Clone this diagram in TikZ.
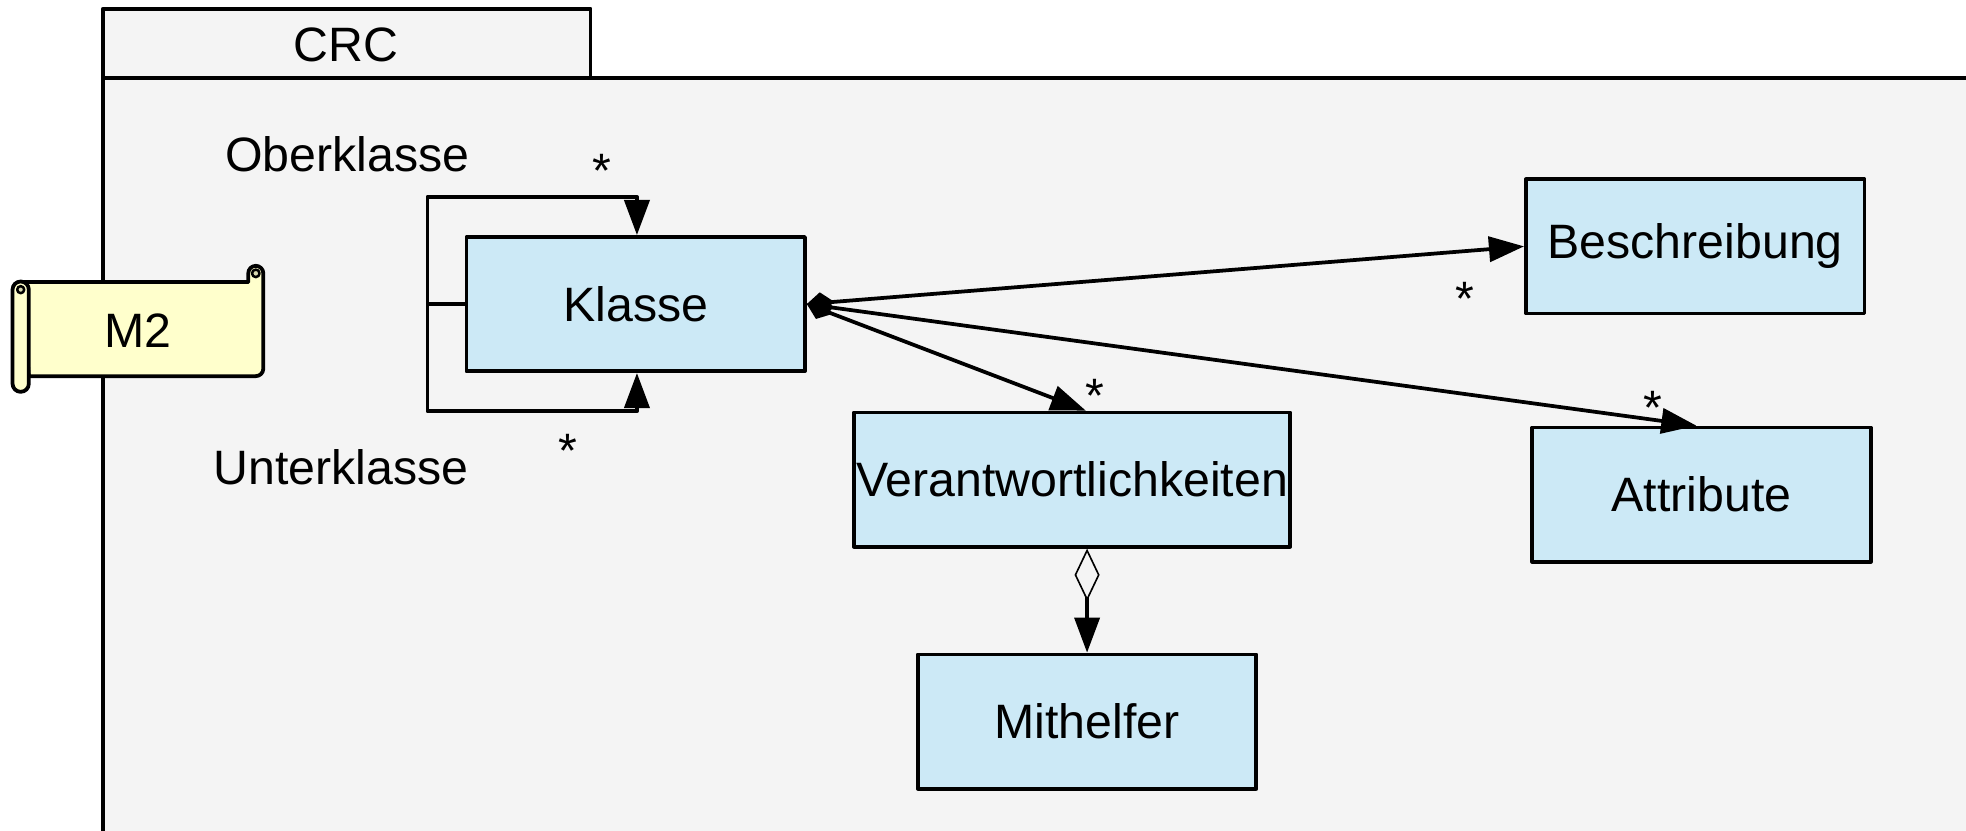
\documentclass[tikz,border=0pt]{standalone}
\usepackage{fontspec}
\setmainfont{Liberation Sans}
\usetikzlibrary{arrows.meta,calc}
\definecolor{pkgfill}{HTML}{F4F4F4}
\definecolor{boxfill}{HTML}{CCE9F6}
\definecolor{scrollfill}{HTML}{FFFFCC}
\definecolor{curlfill}{HTML}{D8D8B0}
\begin{document}
\begin{tikzpicture}[x=1pt,y=-1pt,line join=round,
  txt/.style={font=\fontsize{38.5}{46}\selectfont, inner sep=0pt},
  cls/.style={txt, draw, line width=3pt, fill=boxfill, minimum width=270pt, minimum height=107pt},
  conn/.style={line width=3pt},
  tri/.tip={Triangle[length=28pt,width=20pt]},
  comp/.tip={Diamond[length=22pt,width=17pt]},
  aggr/.tip={Diamond[open,length=42pt,width=20pt,line width=1.3pt]}
]
\useasboundingbox (0,0) rectangle (1568,662);
\clip (0,0) rectangle (1568,662);
% package
\draw[line width=3pt, fill=pkgfill] (82,7) rectangle (471,62);
\draw[line width=3pt, fill=pkgfill] (82,62) rectangle (1600,700);
\node[txt] (crc) at (276,36) {CRC};
% scroll
\draw[line width=3pt, fill=scrollfill] (17,225) -- (198,225) -- (198,218) arc (180:360:6) -- (210,294) arc (0:90:6) -- (23,300) -- cycle;
\draw[line width=2pt, fill=curlfill] (204,218) circle (3);
\draw[line width=3pt, fill=scrollfill] (10,231) arc (180:360:6.5) -- (23,306) arc (0:180:6.5) -- cycle;
\draw[line width=2pt, fill=curlfill] (16.5,231) circle (2.8);
\node[txt] (m2) at (110,264) {M2};
% classes
\node[cls] (klasse) at (507,242.5) {Klasse};
\node[cls] (beschr) at (1352,196.5) {Beschreibung};
\node[cls, minimum width=348pt] (verant) at (855,382.5) {Verantwortlichkeiten};
\node[cls] (attr) at (1357,394.5) {Attribute};
\node[cls] (mit) at (867,575.5) {Mithelfer};
% self association
\coordinate (lj) at (341,242.5);
\coordinate (topc) at (508,157);
\coordinate (botc) at (508,328);
\draw[conn,-tri] (klasse.west) -- (lj) |- (topc) -- (topc |- klasse.north);
\draw[conn,-tri] (lj) |- (botc) -- (botc |- klasse.south);
\node[txt] (ober) at (277,123) {Oberklasse};
\node[txt] (unter) at (272,373) {Unterklasse};
\node[txt] (s1) at (480,136) {*};
\node[txt] (s2) at (453,360) {*};
% associations
\draw[conn,comp-tri] (klasse.east) -- (beschr.west);
\draw[conn,comp-tri] (klasse.east) -- ($(attr.north)+(-4,0)$);
\draw[conn,comp-tri] (klasse.east) -- ($(verant.north)+(11,0)$);
\node[txt] (s3) at (1168,238) {*};
\node[txt] (s4) at (1318,325) {*};
\node[txt] (s5) at (873,316) {*};
% aggregation
\draw[conn,aggr-tri] (mit.north |- verant.south) -- (mit.north);
\end{tikzpicture}
\end{document}
